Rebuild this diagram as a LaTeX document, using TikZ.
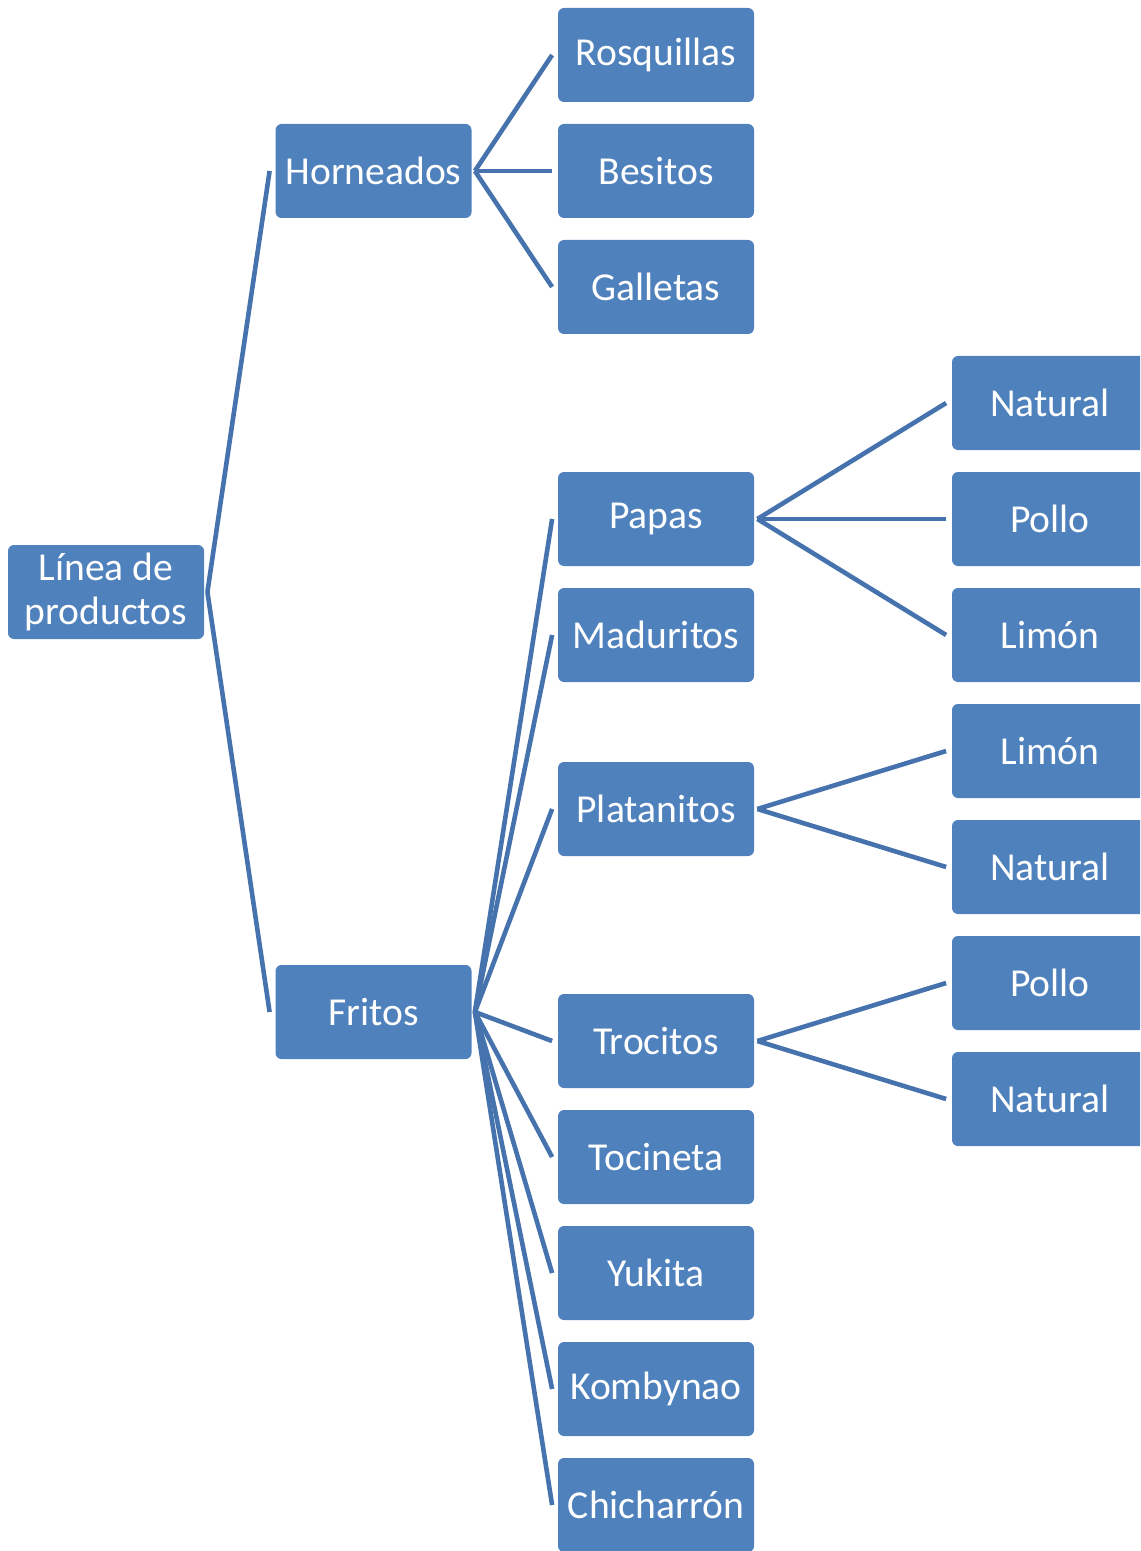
\documentclass[tikz,border=0pt]{standalone}
\usepackage{fontspec}
\setmainfont{Carlito}
\usetikzlibrary{positioning}
\definecolor{boxblue}{HTML}{4F81BD}
\definecolor{linkblue}{HTML}{4673AD}
\tikzset{
  item/.style={fill=boxblue, rounded corners=3pt, minimum width=98pt, minimum height=47pt,
    inner sep=0pt, text=white, font=\fontsize{19.8}{22}\selectfont, align=center},
  link/.style={draw=linkblue, line width=2.3pt},
}
\begin{document}
\begin{tikzpicture}[x=0.5pt, y=-0.5pt]
\clip (0,0) rectangle (1140,1551);
\fill[white] (0,0) rectangle (1140,1551);
% level 1
\node[item] (root) at (106,592) {Línea de\\productos};
% level 2
\node[item] (hor) at (373.5,171) {Horneados};
\node[item] (fri) at (373.5,1012) {Fritos};
% level 3
\node[item] (ros) at (656,55) {Rosquillas};
\node[item] (bes) at (656,171) {Besitos};
\node[item] (gal) at (656,287) {Galletas};
\node[item] (pap) at (656,519) {Papas};
\node[item] (mad) at (656,635) {Maduritos};
\node[item] (pla) at (656,809) {Platanitos};
\node[item] (tro) at (656,1041) {Trocitos};
\node[item] (toc) at (656,1157) {Tocineta};
\node[item] (yuk) at (656,1273) {Yukita};
\node[item] (kom) at (656,1389) {Kombynao};
\node[item] (chi) at (656,1505) {Chicharrón};
% level 4
\node[item] (papnat) at (1050,403) {Natural};
\node[item] (pappol) at (1050,519) {Pollo};
\node[item] (paplim) at (1050,635) {Limón};
\node[item] (plalim) at (1050,751) {Limón};
\node[item] (planat) at (1050,867) {Natural};
\node[item] (tropol) at (1050,983) {Pollo};
\node[item] (tronat) at (1050,1099) {Natural};
% connectors
\foreach \p/\c in {root/hor, root/fri,
                   hor/ros, hor/bes, hor/gal,
                   fri/pap, fri/mad, fri/pla, fri/tro, fri/toc, fri/yuk, fri/kom, fri/chi,
                   pap/papnat, pap/pappol, pap/paplim,
                   pla/plalim, pla/planat,
                   tro/tropol, tro/tronat}
  \draw[link] ([xshift=1.5pt]\p.east) -- ([xshift=-2.75pt]\c.west);
\end{tikzpicture}
\end{document}
